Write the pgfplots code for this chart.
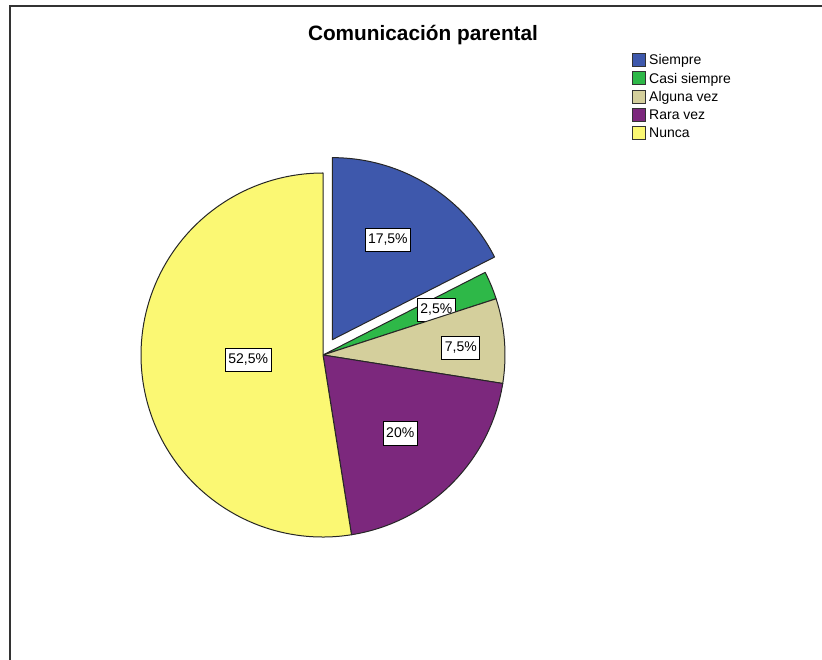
\documentclass[border=0pt]{standalone}
\usepackage{pgfplots}
\usepackage{pgfplotstable}
\pgfplotsset{compat=1.18}
\usepackage{fontspec}
\setmainfont{Liberation Sans}

\definecolor{siempre}{HTML}{3E58AC}
\definecolor{casi}{HTML}{2EB848}
\definecolor{alguna}{HTML}{D4CF9C}
\definecolor{rara}{HTML}{7C287D}
\definecolor{nunca}{HTML}{FBF873}

% share (%), fill colour, explode (px), label radius, label angle shift
\pgfplotstableread[col sep=semicolon]{
name;value;color;explode;lr;ld
Siempre;17.5;siempre;18;114;2.4
Casi siempre;2.5;casi;0;122;-0.8
Alguna vez;7.5;alguna;0;138;-1.6
Rara vez;20;rara;0;110;-0.4
Nunca;52.5;nunca;0;75;-0.7
}\piedata

\begin{document}
\begin{tikzpicture}
\path[use as bounding box] (0,0) rectangle (822pt,660pt);
\begin{axis}[
  at={(0,0)}, anchor=south west,
  scale only axis, width=822pt, height=660pt,
  xmin=0, xmax=822, ymin=0, ymax=660,
  enlargelimits=false, hide axis, clip=true,
]
% outer frame
\draw[line width=2pt, black!80] (axis cs:10,0) -- (axis cs:10,654) -- (axis cs:822,654);
% title
\node[anchor=base, font=\fontsize{20.8}{24}\selectfont\bfseries] at (axis cs:423,619) {Comunicación parental};

\def\aStart{90}
\pgfplotstablegetrowsof{\piedata}
\pgfmathtruncatemacro\lastrow{\pgfplotsretval-1}
\pgfplotsforeachungrouped \i in {0,...,\lastrow}{%
  \pgfplotstablegetelem{\i}{value}\of\piedata \let\v\pgfplotsretval
  \pgfplotstablegetelem{\i}{color}\of\piedata \let\c\pgfplotsretval
  \pgfplotstablegetelem{\i}{name}\of\piedata \let\n\pgfplotsretval
  \pgfplotstablegetelem{\i}{explode}\of\piedata \let\e\pgfplotsretval
  \pgfplotstablegetelem{\i}{lr}\of\piedata \let\lr\pgfplotsretval
  \pgfplotstablegetelem{\i}{ld}\of\piedata \let\ld\pgfplotsretval
  \pgfmathsetmacro\aEnd{\aStart-3.6*\v}
  \pgfmathsetmacro\aMid{(\aStart+\aEnd)/2}
  \pgfmathsetmacro\cx{323+\e*cos(\aMid)}
  \pgfmathsetmacro\cy{305+\e*sin(\aMid)}
  \pgfmathsetmacro\sx{\cx+182*cos(\aStart)}
  \pgfmathsetmacro\sy{\cy+182*sin(\aStart)}
  \pgfmathsetmacro\lx{\cx+\lr*cos(\aMid+\ld)}
  \pgfmathsetmacro\ly{\cy+\lr*sin(\aMid+\ld)}
  \pgfmathsetmacro\gy{660-53.5-18.25*\i}
  \pgfmathsetmacro\gyb{\gy-13}
  \pgfmathsetmacro\ty{\gy-11.5}
  \edef\slice{%
    \noexpand\filldraw[fill=\c, draw=black!85, line width=1pt, line join=round]
      (axis cs:\cx,\cy) -- (axis cs:\sx,\sy)
      arc[start angle=\aStart, end angle=\aEnd, radius=182pt] -- cycle;
    \noexpand\node[fill=white, draw=black, line width=0.8pt, inner xsep=3pt,
      inner ysep=5pt, text height=10.5pt, text depth=3pt,
      font=\noexpand\fontsize{14}{16}\noexpand\selectfont]
      at (axis cs:\lx,\ly)
      {\noexpand\pgfmathprintnumber[use comma, fixed, precision=1,
        assume math mode=true]{\v}\noexpand\%};
    \noexpand\filldraw[fill=\c, draw=black!80, line width=0.9pt]
      (axis cs:632.5,\gy) rectangle (axis cs:645.5,\gyb);
    \noexpand\node[anchor=base west, inner sep=0pt,
      font=\noexpand\fontsize{14}{16}\noexpand\selectfont]
      at (axis cs:649,\ty) {\n};
  }%
  \slice
  \global\let\aStart\aEnd
}
\end{axis}
\end{tikzpicture}
\end{document}
